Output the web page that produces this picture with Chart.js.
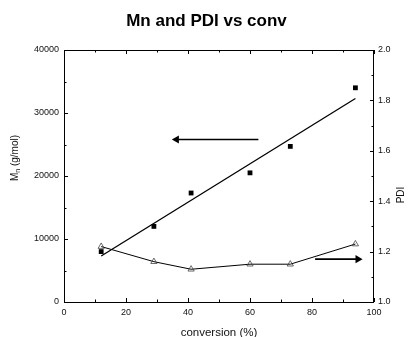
<!DOCTYPE html>
<html>
<head>
<meta charset="utf-8">
<script src="https://cdn.jsdelivr.net/npm/chart.js@4/dist/chart.umd.min.js"></script>
<style>
html, body { margin: 0; padding: 0; background: #fff; }
#wrap { width: 413px; height: 337px; }
</style>
</head>
<body>
<div id="wrap"><canvas id="chart"></canvas></div>
<script>
// values
const conversion = [12, 29, 41, 60, 73, 94];
const mn = [8000, 12000, 17300, 20500, 24700, 34000];
const pdi = [1.22, 1.16, 1.13, 1.15, 1.15, 1.23];
const fitConv = [12, 94];
const fitMn = [7300, 32300];
const leftArrowConv = [62.7, 36.3];
const leftArrowMn = [25800, 25800];
const rightArrowConv = [81, 94.8];
const rightArrowPdi = [1.17, 1.17];

const FONT = '"Liberation Sans", Arial, sans-serif';
const pts = (xs, ys) => xs.map((x, i) => ({x: x, y: ys[i]}));

// frame, inward ticks (major + minor) and the two y titles
const framePlugin = {
    id: 'frame',
    afterDraw(chart) {
        const ctx = chart.ctx;
        const a = chart.chartArea;
        ctx.save();
        ctx.strokeStyle = '#000';
        ctx.lineWidth = 1;
        ctx.strokeRect(a.left + 0.5, a.top + 0.5, a.right - a.left - 1, a.bottom - a.top);

        const drawTicks = (scale, horizontal, sides) => {
            let vals = scale.ticks.map(t => t.value);
            let minor = [];
            for (let i = 0; i < vals.length - 1; i++) minor.push((vals[i] + vals[i + 1]) / 2);
            let all = vals.map(v => [v, 4]).concat(minor.map(v => [v, 2.5]));
            ctx.beginPath();
            all.forEach(([v, len]) => {
                let p = Math.round(scale.getPixelForValue(v)) + 0.5;
                if (horizontal) {
                    if (sides.includes('bottom')) { ctx.moveTo(p, a.bottom); ctx.lineTo(p, a.bottom - len); }
                    if (sides.includes('top')) { ctx.moveTo(p, a.top); ctx.lineTo(p, a.top + len); }
                } else {
                    if (sides.includes('left')) { ctx.moveTo(a.left, p); ctx.lineTo(a.left + len, p); }
                    if (sides.includes('right')) { ctx.moveTo(a.right, p); ctx.lineTo(a.right - len, p); }
                }
            });
            ctx.stroke();
        };
        drawTicks(chart.scales.x, true, ['bottom', 'top']);
        drawTicks(chart.scales.y, false, ['left']);
        drawTicks(chart.scales.y1, false, ['right']);

        // left title with subscript n
        ctx.fillStyle = '#111';
        ctx.textBaseline = 'middle';
        ctx.textAlign = 'left';
        ctx.translate(15, 158);
        ctx.rotate(-Math.PI / 2);
        ctx.font = '10px ' + FONT;
        let wM = ctx.measureText('M').width;
        let wRest = ctx.measureText(' (g/mol)').width;
        ctx.font = '7px ' + FONT;
        let wn = ctx.measureText('n').width;
        let x0 = -(wM + wn + wRest) / 2;
        ctx.font = '10px ' + FONT;
        ctx.fillText('M', x0, 0);
        ctx.font = '7px ' + FONT;
        ctx.fillText('n', x0 + wM, 3);
        ctx.font = '10px ' + FONT;
        ctx.fillText(' (g/mol)', x0 + wM + wn, 0);
        ctx.restore();

        // right title, reading bottom to top
        ctx.save();
        ctx.fillStyle = '#111';
        ctx.textAlign = 'center';
        ctx.textBaseline = 'middle';
        ctx.font = '10px ' + FONT;
        ctx.translate(401, 195);
        ctx.rotate(-Math.PI / 2);
        ctx.fillText('PDI', 0, 0);
        ctx.restore();
    }
};

const ctxEl = document.getElementById('chart');
new Chart(ctxEl, {
    type: 'scatter',
    data: {
        datasets: [
            {
                label: 'Mn',
                data: pts(conversion, mn),
                yAxisID: 'y',
                pointStyle: 'rect',
                pointRadius: 3.4,
                backgroundColor: '#000',
                borderColor: '#000',
                borderWidth: 0,
                showLine: false
            },
            {
                label: 'fit',
                data: pts(fitConv, fitMn),
                yAxisID: 'y',
                showLine: true,
                pointRadius: 0,
                borderColor: '#000',
                borderWidth: 1.3
            },
            {
                label: 'PDI',
                data: pts(conversion, pdi),
                yAxisID: 'y1',
                showLine: true,
                pointStyle: 'triangle',
                pointRadius: 3.6,
                backgroundColor: 'rgba(255,255,255,0)',
                borderColor: '#000',
                pointBorderColor: '#444',
                pointBorderWidth: 0.8,
                borderWidth: 1
            },
            {
                label: 'arrowL',
                data: pts(leftArrowConv, leftArrowMn),
                yAxisID: 'y',
                showLine: true,
                borderColor: '#000',
                borderWidth: 1.6,
                pointStyle: 'triangle',
                pointRadius: [0, 4.7],
                pointRotation: -90,
                backgroundColor: '#000',
                pointBorderWidth: 0
            },
            {
                label: 'arrowR',
                data: pts(rightArrowConv, rightArrowPdi),
                yAxisID: 'y1',
                showLine: true,
                borderColor: '#000',
                borderWidth: 1.6,
                pointStyle: 'triangle',
                pointRadius: [0, 4.7],
                pointRotation: 90,
                backgroundColor: '#000',
                pointBorderWidth: 0
            }
        ]
    },
    options: {
        responsive: true,
        maintainAspectRatio: false,
        animation: false,
        events: [],
        layout: { padding: 0 },
        plugins: {
            legend: { display: false },
            tooltip: { enabled: false },
            title: {
                display: true,
                text: 'Mn and PDI vs conv',
                color: '#000',
                font: { family: FONT, size: 17, weight: 'bold' },
                padding: { top: 11, bottom: 18.6 }
            }
        },
        scales: {
            x: {
                type: 'linear',
                min: 0,
                max: 100,
                afterFit: s => { s.height = 35; },
                grid: { display: false, drawTicks: false },
                border: { display: false },
                ticks: { stepSize: 20, padding: 5, color: '#111', font: { family: FONT, size: 9 } },
                title: {
                    display: true,
                    text: 'conversion (%)',
                    color: '#111',
                    font: { family: FONT, size: 11.5 },
                    padding: { top: 0, bottom: -3 }
                }
            },
            y: {
                type: 'linear',
                position: 'left',
                min: 0,
                max: 40000,
                afterFit: s => { s.width = 64; },
                grid: { display: false, drawTicks: false },
                border: { display: false },
                ticks: { stepSize: 10000, padding: 5, color: '#111', font: { family: FONT, size: 9 }, callback: v => String(v) }
            },
            y1: {
                type: 'linear',
                position: 'right',
                min: 1.0,
                max: 2.0,
                afterFit: s => { s.width = 39; },
                grid: { display: false, drawTicks: false },
                border: { display: false },
                ticks: {
                    stepSize: 0.2,
                    padding: 4,
                    color: '#111',
                    font: { family: FONT, size: 9 },
                    callback: v => v.toFixed(1)
                }
            }
        }
    },
    plugins: [framePlugin]
});
</script>
</body>
</html>
